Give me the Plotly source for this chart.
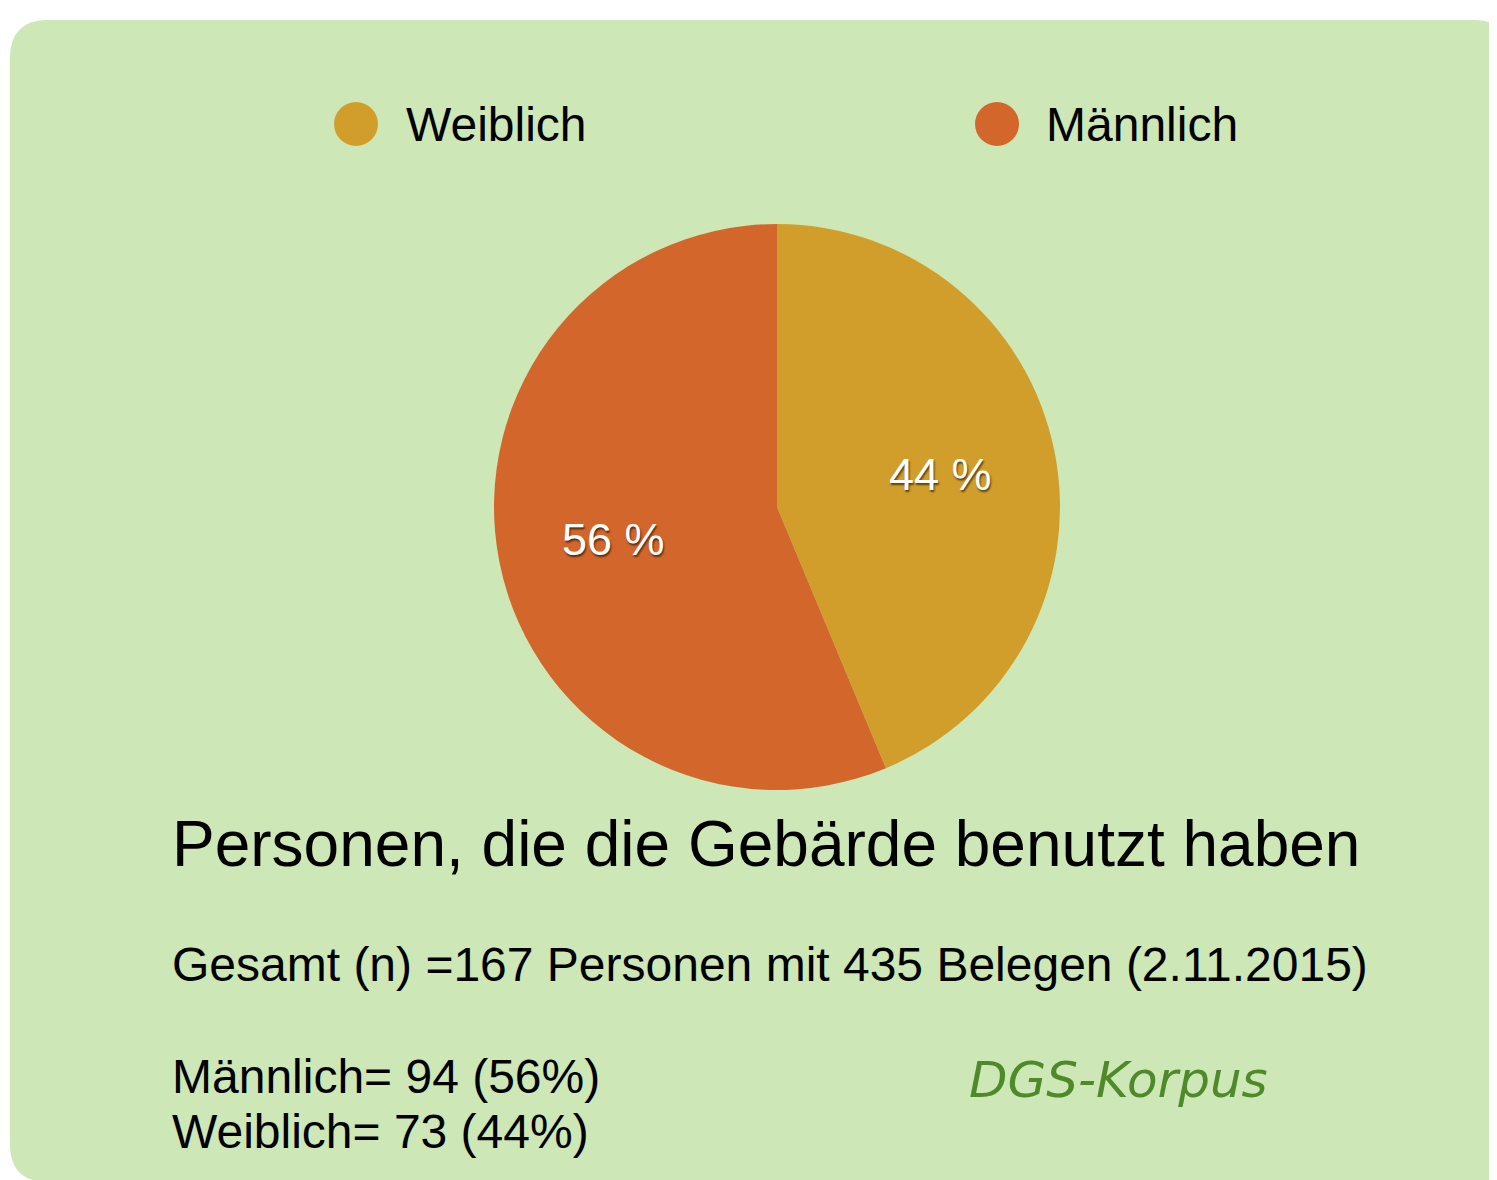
import math
import plotly.graph_objects as go

# ---- data ----
categories = ["Weiblich", "Männlich"]
counts = [73, 94]
slice_colors = ["#D19E2B", "#D3672B"]
title_text = "Personen, die die Gebärde benutzt haben"
total_text = "Gesamt (n) =167 Personen mit 435 Belegen (2.11.2015)"
source_text = "DGS-Korpus"

# page body adds an 8px margin at top/left; figure fills the rest of the window
OFF = 8
W, H = 1497 - OFF, 1180 - OFF
total = sum(counts)
pct = [round(c / total * 100) for c in counts]
slice_labels = [f"{p} %" for p in pct]


def px(x):
    return (x - OFF) / W


def py(y):
    return 1 - (y - OFF) / H


FONT = "Liberation Sans, Arial, sans-serif"

# pie geometry (window pixels)
PCX, PCY, PR = 777, 507, 283

fig = go.Figure()
fig.add_trace(go.Pie(
    labels=categories,
    values=counts,
    textinfo="none",
    sort=False,
    direction="clockwise",
    rotation=0,
    marker=dict(colors=slice_colors, line=dict(width=0)),
    domain=dict(x=[px(PCX - PR), px(PCX + PR)], y=[py(PCY + PR), py(PCY - PR)]),
    showlegend=False,
    hoverinfo="label+value+percent",
))

# rounded green background panel
r = 38
x0, y0, x1, y1 = 10, 20, 1512, 1182
pts = [
    ("M", x0 + r, y0), ("L", x1 - r, y0), ("Q", x1, y0, x1, y0 + r),
    ("L", x1, y1 - r), ("Q", x1, y1, x1 - r, y1), ("L", x0 + r, y1),
    ("Q", x0, y1, x0, y1 - r), ("L", x0, y0 + r), ("Q", x0, y0, x0 + r, y0),
]
path = ""
for p in pts:
    cmd, coords = p[0], p[1:]
    s = []
    for i in range(0, len(coords), 2):
        s.append(f"{px(coords[i]):.5f},{py(coords[i+1]):.5f}")
    path += cmd + " ".join(s) + " "
path += "Z"

shapes = [dict(type="path", path=path, xref="paper", yref="paper",
               fillcolor="#CDE7B6", line=dict(width=0), layer="below")]

annotations = []

# slice percentage labels, placed on each slice's bisector
cum = 0
for v, lab in zip(counts, slice_labels):
    mid = (cum + v / 2) / total * 2 * math.pi
    cum += v
    lx = PCX + 0.59 * PR * math.sin(mid)
    ly = PCY - 0.59 * PR * math.cos(mid)
    annotations.append(dict(text=lab, x=px(lx), y=py(ly), xref="paper", yref="paper",
                            xanchor="center", yanchor="middle", showarrow=False,
                            font=dict(family=FONT, size=45, color="white",
                                      shadow="1px 2px 2px rgba(0,0,0,0.6)")))

# legend (circles + labels)
legend_pos = [(356, 404), (997, 1044)]
for cat, col, (cx, tx) in zip(categories, slice_colors, legend_pos):
    rr = 22
    shapes.append(dict(type="circle", xref="paper", yref="paper",
                       x0=px(cx - rr), x1=px(cx + rr), y0=py(124 + rr), y1=py(124 - rr),
                       fillcolor=col, line=dict(width=0)))
    annotations.append(dict(text=cat, x=px(tx), y=py(124), xref="paper", yref="paper",
                            xanchor="left", yanchor="middle", showarrow=False,
                            font=dict(family=FONT, size=48, color="black")))

annotations.append(dict(text=title_text, x=px(170), y=py(844), xref="paper", yref="paper",
                        xanchor="left", yanchor="middle", showarrow=False,
                        font=dict(family=FONT, size=64, color="black")))
annotations.append(dict(text=total_text, x=px(170), y=py(964), xref="paper", yref="paper",
                        xanchor="left", yanchor="middle", showarrow=False,
                        font=dict(family=FONT, size=48, color="black")))
detail_y = [1076, 1131]
for cat, c, p, yy in zip(["Männlich", "Weiblich"], [counts[1], counts[0]], [pct[1], pct[0]], detail_y):
    annotations.append(dict(text=f"{cat}= {c} ({p}%)", x=px(170), y=py(yy), xref="paper", yref="paper",
                            xanchor="left", yanchor="middle", showarrow=False,
                            font=dict(family=FONT, size=48, color="black")))
annotations.append(dict(text=source_text, x=px(1118), y=py(1080), xref="paper", yref="paper",
                        xanchor="center", yanchor="middle", showarrow=False,
                        font=dict(family="DejaVu Sans", size=50, color="#4E8A2A",
                                  style="italic", weight=200)))

fig.update_layout(
    width=W, height=H,
    margin=dict(l=0, r=0, t=0, b=0),
    paper_bgcolor="white",
    plot_bgcolor="white",
    shapes=shapes,
    annotations=annotations,
)

fig.write_html("out.html")
